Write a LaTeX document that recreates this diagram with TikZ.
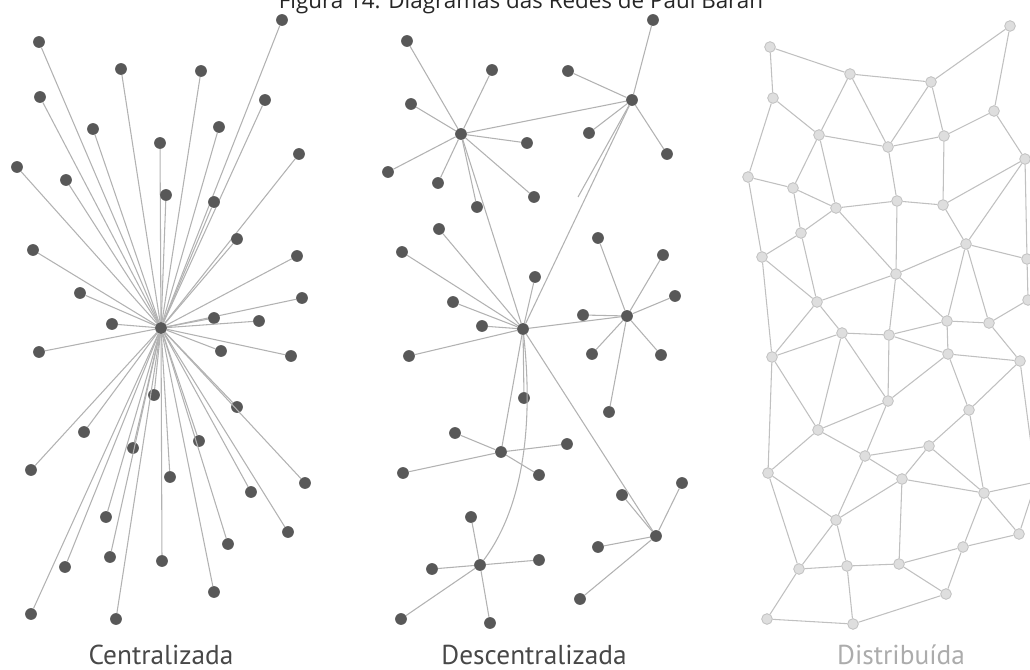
\documentclass[tikz,border=0pt]{standalone}
\usepackage{fontspec}
\setmainfont{PT Sans}
\newfontfamily\titlefont{Open Sans}
\usepackage{tikz}
\usetikzlibrary{positioning}
\usepackage{xcolor}
\definecolor{dotgray}{RGB}{88,88,88}
\definecolor{linkgray}{RGB}{178,178,178}
\definecolor{meshfill}{RGB}{222,222,222}
\definecolor{meshline}{RGB}{192,192,192}
\definecolor{labelgray}{RGB}{72,72,72}
\definecolor{lightlabel}{RGB}{172,172,172}

\begin{document}
\begin{tikzpicture}[x=0.75pt,y=-0.75pt,
    hubdot/.style={circle,fill=dotgray,inner sep=0pt,minimum size=8.8pt},
    leafdot/.style={hubdot},
    meshdot/.style={circle,draw=meshline,fill=meshfill,line width=0.6pt,inner sep=0pt,minimum size=8pt},
    starlink/.style={draw=linkgray,line width=0.8pt},
    meshlink/.style={draw=meshline,line width=0.8pt},
    caption/.style={font=\fontsize{20.5}{24}\selectfont,anchor=base,inner sep=1pt}]
    \useasboundingbox (0,0) rectangle (1030,670);
    \node[font=\titlefont\fontsize{16.8}{19}\selectfont,text=black!85,anchor=base] (title) at (521,9) {Figura 14. Diagramas das Redes de Paul Baran};
    % centralizada
    \node[hubdot] (chub) at (161,328) {};
    \foreach \i/\x/\y in {1/39/42, 2/282/20, 3/121/69, 4/201/71, 5/40/97, 6/265/100, 7/93/129,
        8/219/127, 9/160/143, 10/17/167, 11/299/154, 12/66/180, 13/166/195, 14/214/202,
        15/237/239, 16/33/250, 17/297/256, 18/80/293, 19/302/298, 20/112/324, 21/214/318,
        22/259/321, 23/39/352, 24/221/351, 25/291/356, 26/154/395, 27/237/407, 28/84/432,
        29/133/448, 30/199/441, 31/31/470, 32/170/477, 33/305/483, 34/251/492, 35/106/517,
        36/288/532, 37/228/544, 38/65/567, 39/110/557, 40/162/561, 41/214/592, 42/31/614,
        43/116/619} {
      \node[leafdot] (c\i) at (\x,\y) {};
      \draw[starlink] (chub) -- (c\i);
    }
    % descentralizada
    \node[hubdot] (dhubA) at (461,134) {};
    \node[hubdot] (dhubB) at (632,100) {};
    \node[hubdot] (dhubC) at (523,329) {};
    \node[hubdot] (dhubD) at (627,316) {};
    \node[hubdot] (dhubE) at (501,452) {};
    \node[hubdot] (dhubF) at (480,565) {};
    \node[hubdot] (dhubG) at (656,536) {};
    \foreach [count=\i] \h/\x/\y in {A/407/41, A/492/70, A/411/104, A/527/143, A/388/172,
        A/438/183, A/534/197, A/477/207, B/653/20, B/568/71, B/589/133, B/667/154,
        C/439/229, C/402/252, C/535/277, C/453/302, C/482/326, C/409/356, C/524/398,
        D/598/238, D/663/255, D/675/296, D/583/315, D/592/354, D/661/355, D/609/412,
        E/455/433, E/567/444, E/403/473, E/539/475, F/471/517, F/432/569, F/539/560,
        F/401/619, F/490/623, G/682/483, G/622/495, G/598/547, G/580/599} {
      \node[leafdot] (dl\i) at (\x,\y) {};
      \draw[starlink] (dhub\h) -- (dl\i);
    }
    \coordinate (dloose) at (578,197);
    \draw[starlink] (dhubA) -- (dhubB);
    \draw[starlink] (dhubA) -- (dhubC);
    \draw[starlink] (dhubB) -- (dhubC);
    \draw[starlink] (dhubB) -- (dloose);
    \draw[starlink] (dhubC) -- (dhubD);
    \draw[starlink] (dhubC) -- (dhubE);
    \draw[starlink] (dhubC) -- (dhubG);
    \draw[starlink] (dhubC) .. controls (533,420) and (525,505) .. (dhubF);
    % distribuida
    \foreach \i/\x/\y in {1/770/47, 2/850/74, 3/931/82, 4/1010/26, 5/773/98, 6/994/111,
        7/819/135, 8/888/147, 9/944/136, 10/1025/159, 11/748/177, 12/793/188, 13/836/208,
        14/897/201, 15/943/205, 16/801/233, 17/966/244, 18/762/257, 19/1027/259,
        20/896/274, 21/817/302, 22/1028/300, 23/947/321, 24/989/323, 25/842/333,
        26/889/335, 27/772/357, 28/948/354, 29/1020/361, 30/888/401, 31/969/410,
        32/818/430, 33/929/446, 34/865/456, 35/768/473, 36/902/479, 37/984/493,
        38/836/520, 39/1019/534, 40/963/547, 41/799/569, 42/847/566, 43/899/564,
        44/946/594, 45/767/619, 46/853/624}
      \node[meshdot] (m\i) at (\x,\y) {};
    \coordinate (medge) at (1036,482);
    \foreach \a/\b in {1/2, 1/5, 2/3, 2/7, 2/8, 3/4, 3/8, 3/9, 4/6, 5/7, 5/11, 6/9, 6/10,
        7/8, 7/12, 7/13, 8/9, 8/14, 9/15, 10/15, 10/17, 10/19, 11/12, 11/18, 12/13, 12/16,
        13/14, 13/16, 13/20, 14/15, 14/20, 15/17, 16/18, 16/21, 17/19, 17/20, 17/23, 17/24,
        18/21, 18/27, 19/22, 20/21, 20/23, 20/26, 21/25, 21/27, 22/24, 23/24, 23/28, 23/26,
        24/29, 25/26, 25/27, 25/32, 25/30, 26/30, 26/28, 27/32, 27/35, 28/29, 28/30, 28/31,
        29/31, 30/32, 30/34, 31/33, 31/37, 32/34, 32/35, 33/34, 33/36, 33/37, 34/36, 34/38,
        35/38, 35/41, 36/37, 36/38, 36/43, 37/39, 37/40, 39/40, 40/43, 40/44, 41/42, 41/45,
        38/42, 38/41, 42/43, 42/46, 43/44, 44/46, 45/46}
      \draw[meshlink] (m\a) -- (m\b);
    \foreach \a in {29,37,39}
      \draw[meshlink] (m\a) -- (medge);
    % legendas
    \node[caption,text=labelgray] (cenlabel) at (161,664) {Centralizada};
    \node[caption,text=labelgray] (desclabel) at (534,664) {Descentralizada};
    \node[caption,text=lightlabel] (distlabel) at (901,664) {Distribuída};
\end{tikzpicture}
\end{document}
